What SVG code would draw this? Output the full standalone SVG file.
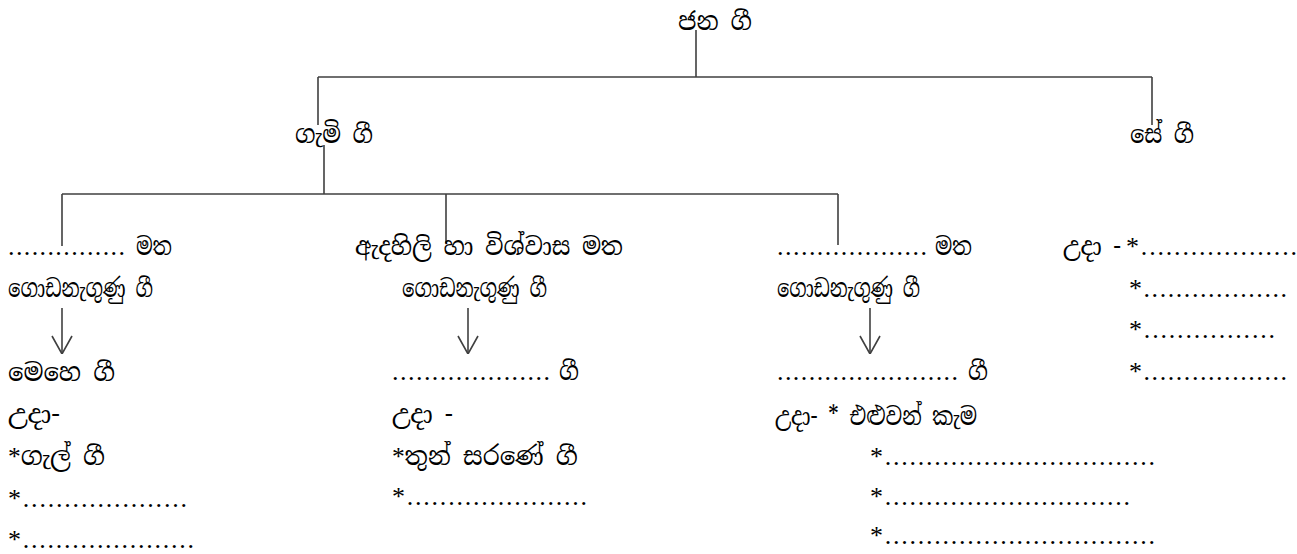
<svg xmlns="http://www.w3.org/2000/svg" width="1297" height="554" viewBox="0 0 1297 554">
<style>
.si{font-family:"Noto Serif Sinhala","Iskoola Pota","Noto Sans Sinhala","Lohit Sinhala","LKLUG",serif;font-size:25px;fill:#000}
.la{font-family:"Liberation Serif","Times New Roman",serif;font-size:26px;fill:#000}
.ln{stroke:#404040;stroke-width:1.6;fill:none}
</style>
<defs>
<marker id="arr" viewBox="0 0 20 22" refX="20" refY="11" markerWidth="20" markerHeight="22" markerUnits="userSpaceOnUse" orient="auto">
<path d="M2,1 L20,11 L2,21" fill="none" stroke="#404040" stroke-width="1.6"/>
</marker>
</defs>
<rect width="1297" height="554" fill="#fff"/>
<g id="connectors" class="ln">
<path d="M696 30 V77 M318 77 H1152 M318 77 V125 M1152 77 V125"/>
<path d="M324 145 V194 M62 194 H838 M62 194 V246 M446 194 V243 M838 194 V245"/>
<line x1="62" y1="308" x2="62" y2="354" marker-end="url(#arr)"/>
<line x1="468" y1="308" x2="468" y2="354" marker-end="url(#arr)"/>
<line x1="870" y1="308" x2="870" y2="354" marker-end="url(#arr)"/>
</g>
<g id="jana-gi"><text class="si" x="678" y="30" textLength="74" lengthAdjust="spacingAndGlyphs">ජන ගී</text></g>
<g id="gami-gi"><text class="si" x="295" y="143" textLength="78" lengthAdjust="spacingAndGlyphs">ගැමි ගී</text></g>
<g id="se-gi"><text class="si" x="1130" y="143" textLength="64" lengthAdjust="spacingAndGlyphs">සේ ගී</text></g>
<g id="col1">
<text class="la" x="8" y="255" textLength="117" lengthAdjust="spacing">...............</text>
<text class="si" x="136" y="255" textLength="36" lengthAdjust="spacingAndGlyphs">මත</text>
<text class="si" x="8" y="297" textLength="145" lengthAdjust="spacingAndGlyphs">ගොඩනැගුණු ගී</text>
<text class="si" x="8" y="381" textLength="107" lengthAdjust="spacingAndGlyphs">මෙහෙ ගී</text>
<text class="si" x="8" y="423" textLength="52" lengthAdjust="spacingAndGlyphs">උදා-</text>
<text x="8" y="465" textLength="97" lengthAdjust="spacingAndGlyphs"><tspan class="la">*</tspan><tspan class="si">ගැල් ගී</tspan></text>
<text class="la" x="8" y="507" textLength="179" lengthAdjust="spacing">*....................</text>
<text class="la" x="8" y="548" textLength="186" lengthAdjust="spacing">*.....................</text>
</g>
<g id="col2">
<text class="si" x="355" y="255" textLength="268" lengthAdjust="spacingAndGlyphs">ඇදහිලි හා විශ්වාස මත</text>
<text class="si" x="402" y="297" textLength="145" lengthAdjust="spacingAndGlyphs">ගොඩනැගුණු ගී</text>
<text class="la" x="392" y="380" textLength="158" lengthAdjust="spacing">....................</text>
<text class="si" x="559" y="380" textLength="20" lengthAdjust="spacingAndGlyphs">ගී</text>
<text class="si" x="392" y="423" textLength="61" lengthAdjust="spacingAndGlyphs">උදා -</text>
<text x="392" y="465" textLength="186" lengthAdjust="spacingAndGlyphs"><tspan class="la">*</tspan><tspan class="si">තුන් සරණේ ගී</tspan></text>
<text class="la" x="392" y="505" textLength="195" lengthAdjust="spacing">*......................</text>
</g>
<g id="col3">
<text class="la" x="777" y="255" textLength="150" lengthAdjust="spacing">...................</text>
<text class="si" x="935" y="255" textLength="37" lengthAdjust="spacingAndGlyphs">මත</text>
<text class="si" x="777" y="297" textLength="143" lengthAdjust="spacingAndGlyphs">ගොඩනැගුණු ගී</text>
<text class="la" x="777" y="380" textLength="181" lengthAdjust="spacing">.......................</text>
<text class="si" x="968" y="380" textLength="20" lengthAdjust="spacingAndGlyphs">ගී</text>
<text class="si" x="775" y="425" textLength="202" lengthAdjust="spacingAndGlyphs">උදා- * එළුවන් කැම</text>
<text class="la" x="870" y="465" textLength="285" lengthAdjust="spacing">*.................................</text>
<text class="la" x="870" y="505" textLength="260" lengthAdjust="spacing">*..............................</text>
<text class="la" x="870" y="544" textLength="285" lengthAdjust="spacing">*.................................</text>
</g>
<g id="col4">
<text class="si" x="1063" y="255" textLength="58" lengthAdjust="spacingAndGlyphs">උදා -</text>
<text class="la" x="1126" y="255" textLength="171" lengthAdjust="spacing">*...................</text>
<text class="la" x="1129" y="297" textLength="158" lengthAdjust="spacing">*..................</text>
<text class="la" x="1129" y="338" textLength="146" lengthAdjust="spacing">*................</text>
<text class="la" x="1129" y="380" textLength="158" lengthAdjust="spacing">*..................</text>
</g>
</svg>
